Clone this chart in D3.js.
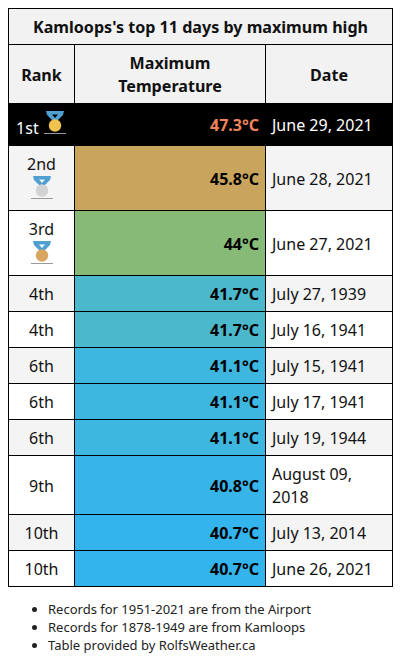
<!DOCTYPE html>
<html><head><meta charset="utf-8">
<script src="https://d3js.org/d3.v7.min.js"></script>
<style>
html,body{margin:0;padding:0;background:#fff;}
body{font-family:"Noto Sans",sans-serif;color:#111;width:400px;height:668px;overflow:hidden;}
table{position:absolute;left:8px;top:8px;width:384px;border-collapse:collapse;table-layout:fixed;font-size:16px;line-height:23px;}
td,th{border:1px solid #000;padding:7px 6px 5px 6px;box-sizing:border-box;}
th{background:#f2f2f2;font-weight:700;font-size:16.1px;}
td.rank{text-align:center;padding:7px 2px 5px 2px;}
td.rank.withMedal{padding:1px 2px 0 2px;}
td.temp{text-align:right;font-weight:700;}
td.date{text-align:left;}
tr.odd td{background:#f4f4f4;}
tr.even td{background:#fff;}
tr.top td{background:#000;color:#fff;border-color:#000;}
svg.medal{display:inline-block;}
ul{position:absolute;left:8px;top:600px;margin:0;padding:0 0 0 40px;font-size:13px;line-height:18px;color:#222;}
</style></head>
<body>
<script>
const titleText = "Kamloops's top 11 days by maximum high";
const headers = ["Rank", "Maximum Temperature", "Date"];
const ranks = ["1st","2nd","3rd","4th","4th","6th","6th","6th","9th","10th","10th"];
const temps = [47.3,45.8,44,41.7,41.7,41.1,41.1,41.1,40.8,40.7,40.7];
const dates = ["June 29, 2021","June 28, 2021","June 27, 2021","July 27, 1939","July 16, 1941","July 15, 1941","July 17, 1941","July 19, 1944","August 09, 2018","July 13, 2014","June 26, 2021"];
const notes = ["Records for 1951-2021 are from the Airport","Records for 1878-1949 are from Kamloops","Table provided by RolfsWeather.ca"];
const tempDomain = [47.3,45.8,44,41.7,41.1,40.8,40.7];
const tempColours = ["#000000","#c8a45c","#87ba76","#4cb8cb","#3db7e0","#38b5e8","#33b4ec"];
const medalColours = ["#f0c24e","#d2d2d2","#d9a662"];
const rowHeights = [42,65,65,36,36,36,36,36,59,36,36];

const colour = d3.scaleOrdinal().domain(tempDomain).range(tempColours);
const table = d3.select("body").append("table");
const cg = table.append("colgroup");
[66,191,127].forEach(w => cg.append("col").style("width", w+"px"));
const thead = table.append("thead");
thead.append("tr").append("th").attr("colspan",3).style("height","36px").text(titleText);
thead.append("tr").selectAll("th").data(headers).join("th").style("height","59px").text(d=>d);

function medal(sel, i){
  const svg = sel.append("svg").attr("class","medal").attr("width",24).attr("height",26).attr("viewBox","0 0 24 26");
  svg.append("path").attr("d","M3 2 L21 2 L20 6 L15 11 L9 11 L4 6 Z").attr("fill","#4f9fd0");
  svg.append("path").attr("d","M9 5.5 L15 5.5 L12 9 Z").attr("fill", i===0?"#000":(i===1?"#f4f4f4":"#fff"));
  svg.append("circle").attr("cx",12).attr("cy",16.5).attr("r",6.2).attr("fill",medalColours[i]);
  svg.append("rect").attr("x",1).attr("y",24).attr("width",22).attr("height",1).attr("fill","#999");
}

const rows = table.append("tbody").selectAll("tr").data(ranks).join("tr")
  .attr("class",(d,i)=> i===0 ? "top" : (i%2 ? "odd":"even"))
  .style("height",(d,i)=>rowHeights[i]+"px");
rows.append("td").attr("class",(d,i)=> i<3 ? "rank withMedal" : "rank").each(function(d,i){
  const c = d3.select(this);
  if(i===0){ c.append("span").style("position","relative").style("top","-2px").text(d+" "); medal(c,0); c.select("svg").style("vertical-align","1px"); }
  else if(i<3){ c.append("div").text(d); const b=c.append("div").style("height","30px").style("margin-top","-2px"); medal(b,i); }
  else c.text(d);
});
rows.append("td").attr("class","temp")
  .style("background",(d,i)=>colour(temps[i]))
  .style("color",(d,i)=> i===0 ? "#f0845c" : "#000")
  .text((d,i)=>temps[i]+"°C");
rows.append("td").attr("class","date").text((d,i)=>dates[i]);

d3.select("body").append("ul").selectAll("li").data(notes).join("li").text(d=>d);
</script>
</body></html>
